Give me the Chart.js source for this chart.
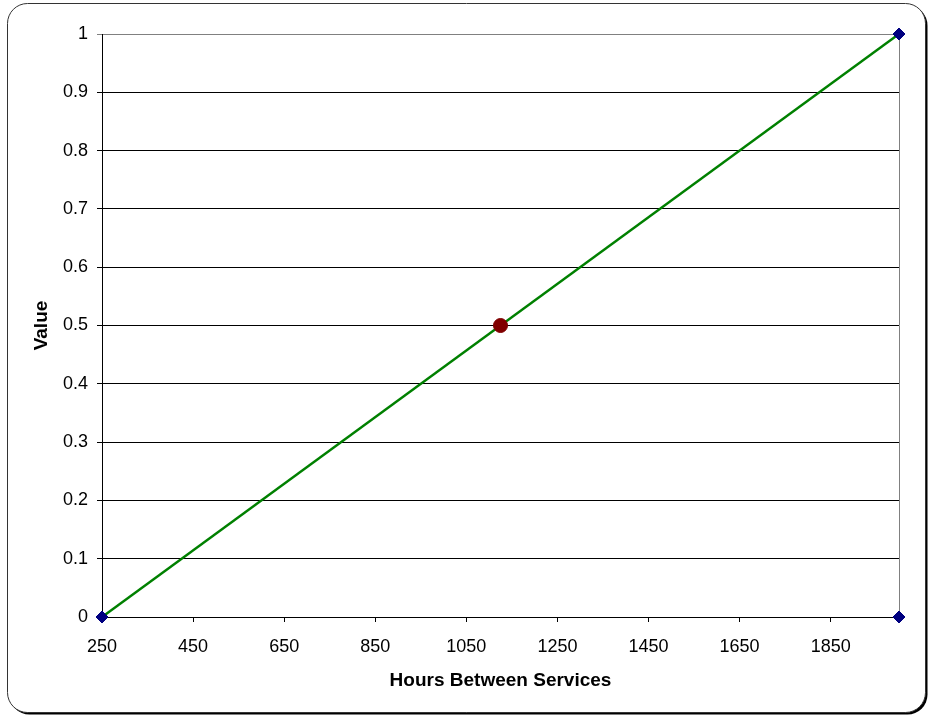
<!DOCTYPE html>
<html>
<head>
<meta charset="utf-8">
<script src="https://cdn.jsdelivr.net/npm/chart.js@4/dist/chart.umd.min.js"></script>
<style>
  body { margin: 0; background: #fff; }
  #wrap { width: 930px; height: 717px; }
</style>
</head>
<body>
<div id="wrap"><canvas id="chart" width="930" height="717"></canvas></div>
<script>
// data
const lineX = [250, 2000];
const lineY = [0, 1];
const markerX = [250, 2000, 2000];
const markerY = [0, 1, 0];
const pointX = [1125];
const pointY = [0.5];
const xTicks = [250, 450, 650, 850, 1050, 1250, 1450, 1650, 1850];
const yTicks = [0, 0.1, 0.2, 0.3, 0.4, 0.5, 0.6, 0.7, 0.8, 0.9, 1];

const toXY = (xs, ys) => xs.map((x, i) => ({ x: x, y: ys[i] }));
const FONT = "'Liberation Sans', Arial, sans-serif";

// rounded frame with a shadow, like the Excel chart border
const framePlugin = {
    id: 'frame',
    beforeDraw(chart) {
        const ctx = chart.ctx;
        const rr = (x, y, w, h, r) => {
            ctx.beginPath();
            ctx.roundRect(x, y, w, h, r);
        };
        ctx.save();
        ctx.fillStyle = '#fff';
        ctx.fillRect(0, 0, chart.width, chart.height);
        rr(9.5, 5.5, 918, 709, 20);
        ctx.fillStyle = '#000';
        ctx.fill();
        rr(7.5, 3.5, 918, 709, 20);
        ctx.fillStyle = '#fff';
        ctx.fill();
        ctx.strokeStyle = '#333';
        ctx.lineWidth = 1;
        ctx.stroke();
        ctx.restore();
    },
    beforeDatasetsDraw(chart) {
        // gray right edge of the plot area
        const a = chart.chartArea;
        const ctx = chart.ctx;
        ctx.save();
        ctx.strokeStyle = '#808080';
        ctx.lineWidth = 1;
        ctx.beginPath();
        ctx.moveTo(Math.round(a.right) + 0.5, a.top);
        ctx.lineTo(Math.round(a.right) + 0.5, a.bottom);
        ctx.stroke();
        ctx.restore();
    }
};

const ctx = document.getElementById('chart').getContext('2d');
new Chart(ctx, {
    type: 'scatter',
    data: {
        datasets: [{
            data: toXY(pointX, pointY),
            backgroundColor: '#800000',
            borderColor: '#800000',
            pointRadius: 7,
            pointHoverRadius: 7,
            showLine: false,
            clip: false,
            order: 1
        }, {
            data: toXY(markerX, markerY),
            backgroundColor: '#000080',
            borderColor: '#000080',
            pointStyle: 'rectRot',
            pointRadius: 6,
            pointHoverRadius: 6,
            showLine: false,
            clip: false,
            order: 2
        }, {
            data: toXY(lineX, lineY),
            borderColor: '#008000',
            borderWidth: 2.5,
            pointRadius: 0,
            showLine: true,
            fill: false,
            order: 3
        }]
    },
    options: {
        responsive: false,
        animation: false,
        layout: { padding: { top: 34, right: 31, left: 0, bottom: 0 } },
        plugins: {
            legend: { display: false },
            tooltip: { enabled: false }
        },
        scales: {
            x: {
                type: 'linear',
                min: 250,
                max: 2000,
                afterBuildTicks: s => { s.ticks = xTicks.map(v => ({ value: v })); },
                afterFit: s => { s.height = 100; },
                grid: { drawOnChartArea: false, color: '#000', tickLength: 5 },
                border: { color: '#000' },
                ticks: {
                    color: '#000', padding: 14,
                    font: { family: FONT, size: 18 },
                    callback: v => String(v)
                },
                title: {
                    display: true,
                    text: 'Hours Between Services',
                    color: '#000',
                    font: { family: FONT, size: 19, weight: 'bold' },
                    padding: { top: 25, bottom: 25 }
                }
            },
            y: {
                min: 0,
                max: 1,
                afterBuildTicks: s => { s.ticks = yTicks.map(v => ({ value: v })); },
                afterFit: s => { s.width = 102; },
                grid: {
                    color: c => (c.tick && c.tick.value === 1 ? '#808080' : '#000'),
                    tickLength: 5
                },
                border: { color: '#000' },
                ticks: {
                    color: '#000', padding: 9,
                    font: { family: FONT, size: 18 },
                    callback: v => String(v)
                },
                title: {
                    display: true,
                    text: 'Value',
                    color: '#000',
                    font: { family: FONT, size: 19, weight: 'bold' },
                    padding: { top: 30, bottom: 30 }
                }
            }
        }
    },
    plugins: [framePlugin]
});
</script>
</body>
</html>
